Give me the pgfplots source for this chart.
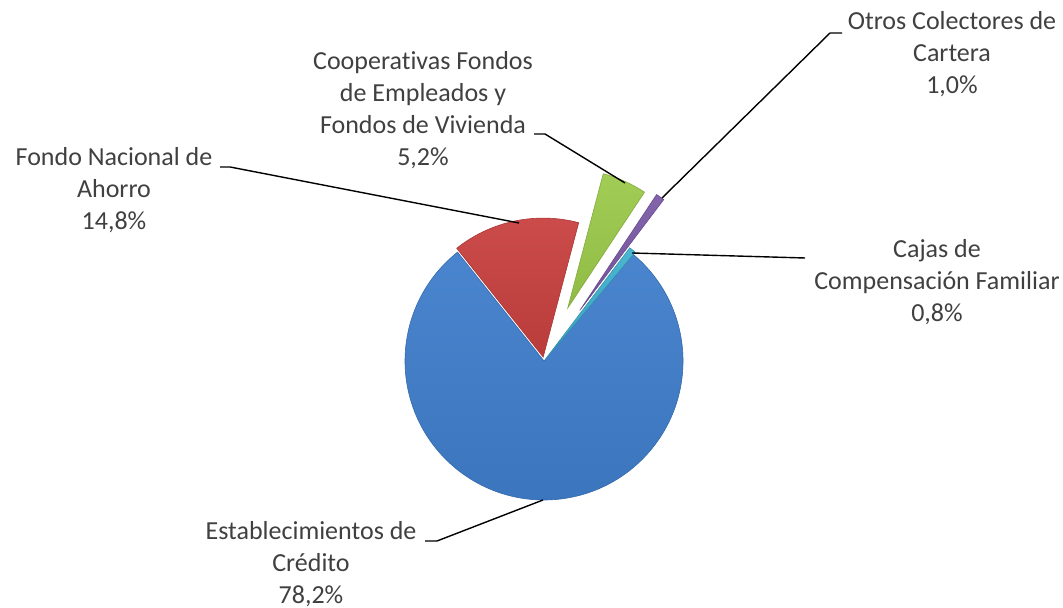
\documentclass[border=0pt]{standalone}
\usepackage{fontspec}
\setmainfont{Carlito}[Ligatures=NoCommon]
\usepackage{pgfplots}
\usepackage{pgfplotstable}
\pgfplotsset{compat=1.18}
\usetikzlibrary{calc}

\definecolor{cBlue}{HTML}{3E7DCB}
\definecolor{cRed}{HTML}{C8413F}
\definecolor{cGreen}{HTML}{9BC94A}
\definecolor{cPurple}{HTML}{7B5AA6}
\definecolor{cTeal}{HTML}{3FB1CE}
\definecolor{txt}{HTML}{404040}

% share (%) and how far each slice is pulled out (px of the 1063x608 frame)
\pgfplotstableread{
value explode
78.2  0
14.8  4
5.2   58
1.0   62
0.8   3
}\piedata

% start/end angle of each slice, clockwise from 50 deg
\def\curangle{50}
\pgfplotsforeachungrouped \i in {0,...,4}{%
  \pgfplotstablegetelem{\i}{value}\of\piedata
  \pgfmathsetmacro\endangle{\curangle-3.6*\pgfplotsretval}%
  \expandafter\xdef\csname sa\i\endcsname{\curangle}%
  \expandafter\xdef\csname ea\i\endcsname{\endangle}%
  \pgfplotstablegetelem{\i}{explode}\of\piedata
  \expandafter\xdef\csname ex\i\endcsname{\pgfplotsretval}%
  \xdef\curangle{\endangle}%
}

% slice: #1 row, #2 colour  (centre 544,247 ; radius 139 px = 69.5pt)
\newcommand{\slice}[2]{%
  \path[top color=#2!94!white, bottom color=#2!93!black, draw=#2!85!black, line width=0.3pt]
    ($(axis cs:544,247)+({(\csname sa#1\endcsname+\csname ea#1\endcsname)/2}:{\csname ex#1\endcsname*0.5pt})$)
    -- +(\csname sa#1\endcsname:69.5pt)
    arc[start angle=\csname sa#1\endcsname, end angle=\csname ea#1\endcsname, radius=69.5pt]
    -- cycle;}

\begin{document}
\begin{tikzpicture}
\begin{axis}[
  width=531.5pt, height=304pt,
  scale only axis,
  hide axis,
  xmin=0, xmax=1063,
  ymin=0, ymax=608,
  clip=false,
]
\path (rel axis cs:0,0) rectangle (rel axis cs:1,1);

\slice{0}{cBlue}
\slice{1}{cRed}
\slice{2}{cGreen}
\slice{3}{cPurple}
\slice{4}{cTeal}

% leader lines
\draw[line width=0.7pt] (axis cs:662,410) -- (axis cs:830,575) -- (axis cs:842,575);
\draw[line width=0.7pt] (axis cs:632,355) -- (axis cs:805,350);
\draw[line width=0.7pt] (axis cs:625,425) -- (axis cs:545,474) -- (axis cs:534,474);
\draw[line width=0.7pt] (axis cs:519,385) -- (axis cs:230,441) -- (axis cs:220,441);
\draw[line width=0.7pt] (axis cs:543,108) -- (axis cs:437,67) -- (axis cs:425,67);

% labels
\begin{scope}[every node/.style={align=center, text=txt, font=\fontsize{13}{16}\selectfont, inner sep=0pt}]
\node at (axis cs:952,554) {Otros Colectores de\\Cartera\\1,0\%};
\node at (axis cs:937,326) {Cajas de\\Compensación Familiar\\0,8\%};
\node at (axis cs:423,498) {Cooperativas Fondos\\de Empleados y\\Fondos de Vivienda\\5,2\%};
\node at (axis cs:114,418) {Fondo Nacional de\\Ahorro\\14,8\%};
\node at (axis cs:311,44) {Establecimientos de\\Crédito\\78,2\%};
\end{scope}
\end{axis}
\end{tikzpicture}
\end{document}
